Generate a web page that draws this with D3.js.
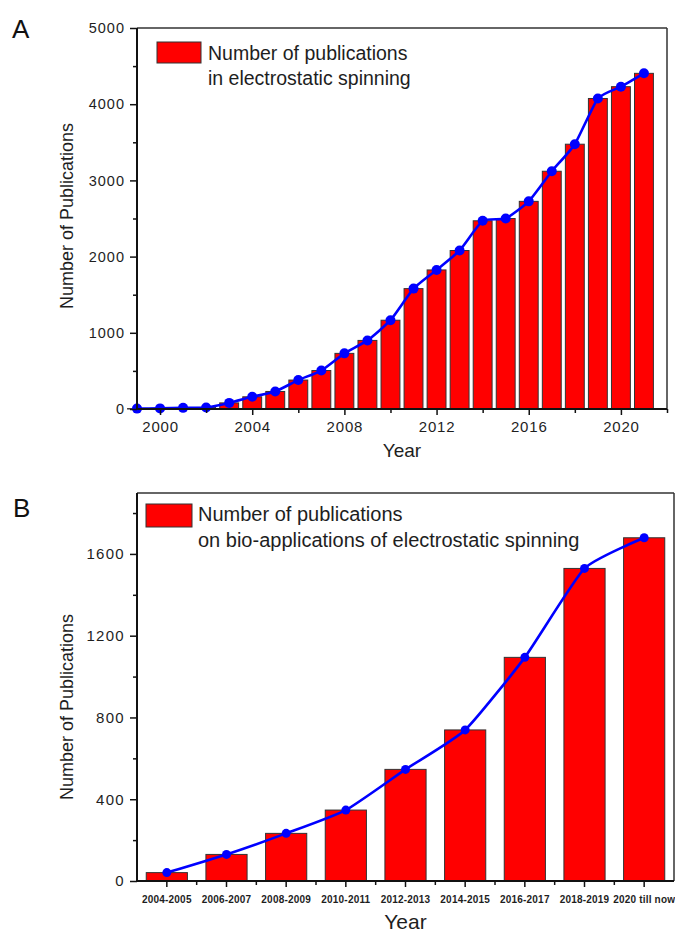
<!DOCTYPE html>
<html>
<head>
<meta charset="utf-8">
<script src="https://cdn.jsdelivr.net/npm/d3@7"></script>
<style>
  html, body { margin: 0; padding: 0; background: #fff; }
  svg { display: block; font-family: "Liberation Sans", Arial, sans-serif; }
</style>
</head>
<body>
<svg id="chart" width="675" height="932"></svg>
<script>
// ---- Data: panel A ----
const yearsA = [1999, 2000, 2001, 2002, 2003, 2004, 2005, 2006, 2007, 2008, 2009, 2010,
                2011, 2012, 2013, 2014, 2015, 2016, 2017, 2018, 2019, 2020, 2021];
const valuesA = [5, 8, 15, 20, 80, 160, 230, 380, 505, 730, 900, 1165,
                 1580, 1825, 2080, 2470, 2500, 2725, 3120, 3475, 4075, 4230, 4405];
const xTicksA = [2000, 2004, 2008, 2012, 2016, 2020];
const xMinorA = [2002, 2006, 2010, 2014, 2018, 2022];
const yTicksA = [0, 1000, 2000, 3000, 4000, 5000];
const yMinorA = [500, 1500, 2500, 3500, 4500];
const legendA = ["Number of publications", "in electrostatic spinning"];

// ---- Data: panel B ----
const categoriesB = ["2004-2005", "2006-2007", "2008-2009", "2010-2011", "2012-2013",
                     "2014-2015", "2016-2017", "2018-2019", "2020 till now"];
const valuesB = [41, 130, 233, 347, 546, 739, 1094, 1529, 1679];
const yTicksB = [0, 400, 800, 1200, 1600];
const yMinorB = [200, 600, 1000, 1400, 1800];
const legendB = ["Number of publications", "on bio-applications of electrostatic spinning"];

const svg = d3.select("#chart");
const RED = "#ff0000", BLUE = "#0000ff", INK = "#1e1e1e";

function frame(g, L, T, R, B) {
  g.append("line").attr("x1", L).attr("x2", R).attr("y1", T).attr("y2", T)
    .attr("stroke", "#333").attr("stroke-width", 1.5);
  g.append("line").attr("x1", R).attr("x2", R).attr("y1", T).attr("y2", B)
    .attr("stroke", "#333").attr("stroke-width", 1.5);
  g.append("line").attr("x1", L).attr("x2", R).attr("y1", B).attr("y2", B)
    .attr("stroke", "#111").attr("stroke-width", 2);
  g.append("line").attr("x1", L).attr("x2", L).attr("y1", T).attr("y2", B)
    .attr("stroke", "#111").attr("stroke-width", 2);
}

function styleAxis(sel, fontSize, ls) {
  sel.select(".domain").remove();
  sel.selectAll(".tick line").attr("stroke", "#111").attr("stroke-width", 1.5);
  sel.selectAll(".tick text").attr("fill", INK)
    .style("font-size", fontSize + "px").style("letter-spacing", ls + "px")
    .style("font-family", "'Liberation Sans', Arial, sans-serif");
}

// ================= Panel A =================
{
  const L = 137, T = 28, R = 667, B = 409;
  const g = svg.append("g");
  const x = d3.scaleLinear().domain([1999, 2022]).range([L, R]);
  const y = d3.scaleLinear().domain([0, 5000]).range([B, T]);
  const half = 0.41;

  g.selectAll("rect.bar").data(yearsA).join("rect").attr("class", "bar")
    .attr("x", d => x(d - half)).attr("width", d => x(d + half) - x(d - half))
    .attr("y", (d, i) => y(valuesA[i])).attr("height", (d, i) => y(0) - y(valuesA[i]))
    .attr("fill", RED).attr("stroke", "#333").attr("stroke-width", 1);

  const line = d3.line().x(d => x(d[0])).y(d => y(d[1])).curve(d3.curveCardinal.tension(0.5));
  const pts = yearsA.map((yr, i) => [yr, valuesA[i]]);
  g.append("path").attr("d", line(pts)).attr("fill", "none")
    .attr("stroke", BLUE).attr("stroke-width", 2.6);
  g.selectAll("circle").data(pts).join("circle")
    .attr("cx", d => x(d[0])).attr("cy", d => y(d[1])).attr("r", 5).attr("fill", BLUE);

  frame(g, L, T, R, B);

  const ax = g.append("g").attr("transform", `translate(0,${B})`)
    .call(d3.axisBottom(x).tickValues(xTicksA).tickFormat(d3.format("d")).tickSize(6).tickPadding(6));
  styleAxis(ax, 15, 0.8);
  const axm = g.append("g").attr("transform", `translate(0,${B})`)
    .call(d3.axisBottom(x).tickValues(xMinorA).tickFormat("").tickSize(4));
  styleAxis(axm, 15, 0);

  const ay = g.append("g").attr("transform", `translate(${L},0)`)
    .call(d3.axisLeft(y).tickValues(yTicksA).tickFormat(d3.format("d")).tickSize(7).tickPadding(5));
  styleAxis(ay, 14.5, 1.0);
  const aym = g.append("g").attr("transform", `translate(${L},0)`)
    .call(d3.axisLeft(y).tickValues(yMinorA).tickFormat("").tickSize(4));
  styleAxis(aym, 14, 0);

  // Legend
  g.append("rect").attr("x", 157).attr("y", 42).attr("width", 44).attr("height", 21)
    .attr("fill", RED).attr("stroke", "#333").attr("stroke-width", 1);
  g.selectAll("text.leg").data(legendA).join("text").attr("class", "leg")
    .attr("x", 208).attr("y", (d, i) => 60 + i * 24.5)
    .attr("fill", INK).style("font-size", "19.5px").text(d => d);

  // Titles
  g.append("text").attr("x", (L + R) / 2).attr("y", 457).attr("text-anchor", "middle")
    .attr("fill", INK).style("font-size", "19px").text("Year");
  g.append("text").attr("transform", `translate(73,${216}) rotate(-90)`)
    .attr("text-anchor", "middle").attr("fill", INK).style("font-size", "18px")
    .text("Number of Publications");
  g.append("text").attr("x", 12).attr("y", 38).attr("fill", "#111")
    .style("font-size", "26px").text("A");
}

// ================= Panel B =================
{
  const L = 137, T = 493, R = 674, B = 881;
  const g = svg.append("g");
  const x = d3.scaleBand().domain(categoriesB).range([L, R]).paddingInner(0.31).paddingOuter(0.155);
  const y = d3.scaleLinear().domain([0, 1898]).range([B, T]);
  const cx = d => x(d) + x.bandwidth() / 2;

  g.selectAll("rect.bar").data(categoriesB).join("rect").attr("class", "bar")
    .attr("x", d => x(d)).attr("width", x.bandwidth())
    .attr("y", (d, i) => y(valuesB[i])).attr("height", (d, i) => y(0) - y(valuesB[i]))
    .attr("fill", RED).attr("stroke", "#333").attr("stroke-width", 1);

  const pts = categoriesB.map((c, i) => [c, valuesB[i]]);
  const line = d3.line().x(d => cx(d[0])).y(d => y(d[1])).curve(d3.curveCardinal.tension(0.5));
  g.append("path").attr("d", line(pts)).attr("fill", "none")
    .attr("stroke", BLUE).attr("stroke-width", 2.6);
  g.selectAll("circle").data(pts).join("circle")
    .attr("cx", d => cx(d[0])).attr("cy", d => y(d[1])).attr("r", 4.5).attr("fill", BLUE);

  frame(g, L, T, R, B);

  const ax = g.append("g").attr("transform", `translate(0,${B})`)
    .call(d3.axisBottom(x).tickSize(6).tickPadding(9));
  styleAxis(ax, 10, 0.2);
  ax.selectAll(".tick text").style("font-weight", "bold");
  // minor ticks at category boundaries
  const step = x.step();
  const bounds = categoriesB.slice(1).map(c => cx(c) - step / 2);
  g.selectAll("line.minorB").data(bounds).join("line").attr("class", "minorB")
    .attr("x1", d => d).attr("x2", d => d).attr("y1", B).attr("y2", B + 4)
    .attr("stroke", "#111").attr("stroke-width", 1.5);

  const ay = g.append("g").attr("transform", `translate(${L},0)`)
    .call(d3.axisLeft(y).tickValues(yTicksB).tickFormat(d3.format("d")).tickSize(7).tickPadding(5));
  styleAxis(ay, 15, 1.3);
  const aym = g.append("g").attr("transform", `translate(${L},0)`)
    .call(d3.axisLeft(y).tickValues(yMinorB).tickFormat("").tickSize(4));
  styleAxis(aym, 14, 0);

  // Legend
  g.append("rect").attr("x", 146).attr("y", 504).attr("width", 46).attr("height", 23)
    .attr("fill", RED).attr("stroke", "#333").attr("stroke-width", 1);
  g.selectAll("text.leg").data(legendB).join("text").attr("class", "leg")
    .attr("x", 198).attr("y", (d, i) => 521 + i * 26)
    .attr("fill", INK).style("font-size", "20px").text(d => d);

  // Titles
  g.append("text").attr("x", (L + R) / 2).attr("y", 929).attr("text-anchor", "middle")
    .attr("fill", INK).style("font-size", "21px").text("Year");
  g.append("text").attr("transform", `translate(73,${707}) rotate(-90)`)
    .attr("text-anchor", "middle").attr("fill", INK).style("font-size", "18px")
    .text("Number of Publications");
  g.append("text").attr("x", 13).attr("y", 517).attr("fill", "#111")
    .style("font-size", "26px").text("B");
}
</script>
</body>
</html>
